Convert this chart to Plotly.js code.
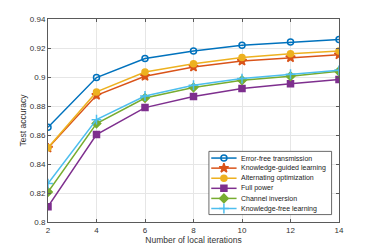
<!DOCTYPE html>
<html>
<head>
<meta charset="utf-8">
<script src="https://cdn.plot.ly/plotly-3.0.1.min.js"></script>
<style>html,body{margin:0;padding:0;background:#fff;}#chart{width:374px;height:249px;}</style>
</head>
<body>
<div id="chart"></div>
<script>
const iterations = [2, 4, 6, 8, 10, 12, 14];
const seriesNames = ["Error-free transmission", "Knowledge-guided learning", "Alternating optimization", "Full power", "Channel inversion", "Knowledge-free learning"];
const errorFree      = [0.8653, 0.8996, 0.9127, 0.9179, 0.9219, 0.9241, 0.9258];
const knowledgeGuided= [0.8510, 0.8874, 0.9005, 0.9069, 0.9110, 0.9134, 0.9154];
const alternating    = [0.8512, 0.8897, 0.9034, 0.9092, 0.9134, 0.9161, 0.9179];
const fullPower      = [0.8106, 0.8603, 0.8789, 0.8865, 0.8920, 0.8954, 0.8982];
const channelInv     = [0.8207, 0.8679, 0.8855, 0.8927, 0.8977, 0.9005, 0.9039];
const knowledgeFree  = [0.8265, 0.8706, 0.8869, 0.8943, 0.8989, 0.9019, 0.9046];
const yTicks = [0.8, 0.82, 0.84, 0.86, 0.88, 0.9, 0.92, 0.94];
const yTickText = ["0.8", "0.82", "0.84", "0.86", "0.88", "0.9", "0.92", "0.94"];

const colors = ["#0072BD", "#D95319", "#EDB120", "#7E2F8E", "#77AC30", "#4DBEEE"];
const symbols = ["circle-open", "star", "circle", "square", "diamond", "cross-thin-open"];
const sizes = [6, 7, 6, 6, 6.5, 7];
const data = [errorFree, knowledgeGuided, alternating, fullPower, channelInv, knowledgeFree];
const FONT = 'Liberation Sans, Arial, sans-serif';

const traces = data.map((ys, i) => ({
  x: iterations, y: ys, name: seriesNames[i], type: 'scatter', mode: 'lines+markers',
  showlegend: false,
  line: {color: colors[i], width: 1.5},
  marker: {symbol: symbols[i], size: sizes[i], color: colors[i], line: {color: colors[i], width: 1.5}}
}));

// Custom compact legend (Plotly's built-in legend rows are too tall)
const box = {x0: 0.553, x1: 0.9745, y0: 0.0365, y1: 0.348};
const rowTop = 0.315, rowStep = 0.0497;
const lineX0 = 0.561, lineX1 = 0.648, textX = 0.656;
traces.push({
  x: [box.x0, box.x1, box.x1, box.x0, box.x0], y: [box.y0, box.y0, box.y1, box.y1, box.y0],
  xaxis: 'x2', yaxis: 'y2', mode: 'lines', fill: 'toself', fillcolor: '#ffffff',
  line: {color: '#444', width: 0.8}, showlegend: false, hoverinfo: 'skip'
});
const annotations = [];
seriesNames.forEach((name, i) => {
  const yy = rowTop - i * rowStep;
  traces.push({
    x: [lineX0, lineX1], y: [yy, yy], xaxis: 'x2', yaxis: 'y2', mode: 'lines',
    line: {color: colors[i], width: 1.5}, showlegend: false, hoverinfo: 'skip'
  });
  traces.push({
    x: [(lineX0 + lineX1) / 2], y: [yy], xaxis: 'x2', yaxis: 'y2', mode: 'markers',
    marker: {symbol: symbols[i], size: sizes[i], color: colors[i], line: {color: colors[i], width: 1.5}},
    showlegend: false, hoverinfo: 'skip'
  });
  annotations.push({
    xref: 'paper', yref: 'paper', x: textX, y: yy, xanchor: 'left', yanchor: 'middle',
    text: name, showarrow: false, font: {family: FONT, size: 7, color: '#222'}
  });
});

const axisCommon = {
  showline: true, linecolor: '#5a5a5a', linewidth: 1, mirror: 'allticks',
  ticks: 'inside', ticklen: 3, tickcolor: '#5a5a5a',
  showgrid: true, gridcolor: '#e6e6e6', gridwidth: 1, zeroline: false,
  tickfont: {family: FONT, size: 8, color: '#333'}
};

const layout = {
  width: 374, height: 249,
  margin: {l: 48, r: 35, t: 19, b: 27},
  paper_bgcolor: '#fff', plot_bgcolor: '#fff',
  showlegend: false,
  xaxis: Object.assign({}, axisCommon, {
    range: [2, 14], tickvals: iterations, ticktext: iterations.map(String),
    title: {text: 'Number of local iterations', standoff: 3, font: {family: FONT, size: 8.5, color: '#333'}}
  }),
  yaxis: Object.assign({}, axisCommon, {
    range: [0.8, 0.94], tickvals: yTicks, ticktext: yTickText,
    title: {text: 'Test accuracy', standoff: 1, font: {family: FONT, size: 8.5, color: '#333'}}
  }),
  xaxis2: {overlaying: 'x', range: [0, 1], visible: false, fixedrange: true},
  yaxis2: {overlaying: 'y', range: [0, 1], visible: false, fixedrange: true},
  annotations: annotations
};

Plotly.newPlot('chart', traces, layout, {displayModeBar: false, staticPlot: true});
</script>
</body>
</html>
